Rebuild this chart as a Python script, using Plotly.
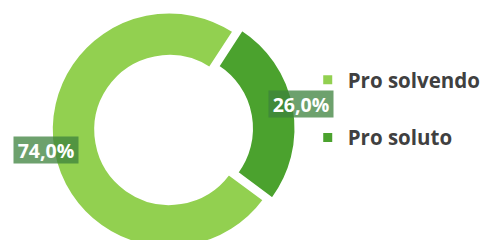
import math
import plotly.graph_objects as go

# ---- data ----
labels = ["Pro solvendo", "Pro soluto"]
values = [74.0, 26.0]
text_labels = ["74,0%", "26,0%"]

# ---- style ----
colors = ["#92D050", "#4BA22E"]
pulls = [0, 0.075]
W, H = 486, 262
CX, CY = 170, 130
R_OUT = 118
R_DOM = R_OUT * (1 + max(pulls))
ROT = 126.6
HOLE = 0.63
FONT = "Open Sans"

fig = go.Figure()
fig.add_trace(go.Pie(
    labels=labels, values=values, sort=False, direction="clockwise",
    rotation=ROT, hole=HOLE, pull=pulls,
    marker=dict(colors=colors, line=dict(color="white", width=2)),
    textinfo="none", showlegend=False, hoverinfo="label+percent",
    domain=dict(x=[(CX - R_DOM) / W, (CX + R_DOM) / W],
                y=[1 - (CY + R_DOM) / H, 1 - (CY - R_DOM) / H]),
))

# data labels placed at the outer rim of each slice (computed from values)
total = sum(values)
start = ROT
for v, t, p in zip(values, text_labels, pulls):
    span = v / total * 360
    mid = math.radians(start + span / 2)
    start += span
    rl = R_OUT * (1 + p) + 8
    px = CX + rl * math.sin(mid)
    py = CY - rl * math.cos(mid)
    fig.add_annotation(
        x=px / W, y=1 - py / H, xref="paper", yref="paper", text=t,
        xanchor="center", yanchor="middle", yshift=2,
        width=60, height=22, align="center", valign="middle",
        showarrow=False, bgcolor="rgba(60,130,60,0.75)", borderpad=2,
        font=dict(family=FONT, size=19.5, color="white", weight="bold"),
    )

# legend entries
for lab, col in zip(labels, colors):
    fig.add_trace(go.Scatter(
        x=[None], y=[None], mode="markers", name=lab, legendgroup=lab,
        marker=dict(symbol="square", size=9, color=col), showlegend=True,
    ))

fig.update_layout(
    width=W, height=H, margin=dict(l=0, r=0, t=0, b=0),
    paper_bgcolor="white", plot_bgcolor="white",
    xaxis=dict(visible=False), yaxis=dict(visible=False),
    legend=dict(x=309 / W, y=1 - 60 / H, xanchor="left", yanchor="top",
                tracegroupgap=28, bgcolor="rgba(0,0,0,0)",
                font=dict(family=FONT, size=20.5, color="#404040", weight="bold")),
)

fig.write_html("out.html", config={"displayModeBar": False},
               post_script="document.body.style.margin='0';document.body.style.overflow='hidden';")
